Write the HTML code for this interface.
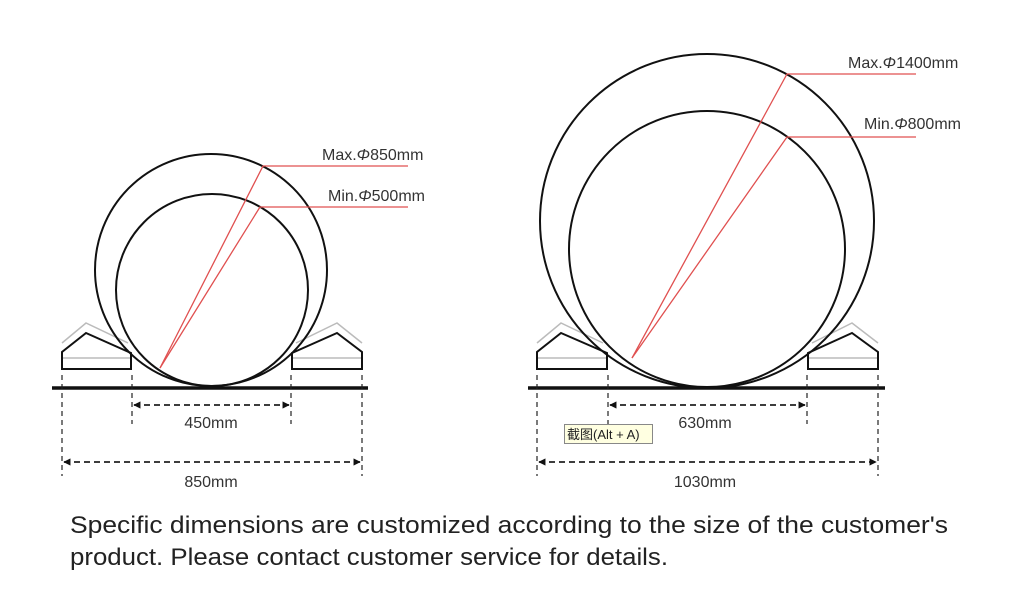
<!DOCTYPE html>
<html><head><meta charset="utf-8"><style>
html,body{margin:0;padding:0;background:#fff;}
svg{display:block;}
</style></head><body>
<svg width="1024" height="599" viewBox="0 0 1024 599" xmlns="http://www.w3.org/2000/svg" font-family="Liberation Sans, sans-serif">
<defs>
<marker id="a" viewBox="0 0 10 10" refX="9" refY="5" markerWidth="4" markerHeight="4" orient="auto-start-reverse"><path d="M0,0L10,5L0,10z" fill="#111"/></marker>
</defs>
<!-- LEFT -->
<g fill="none" stroke="#bbb" stroke-width="1.5">
<path d="M62,343 L86,323 L128,343"/><path d="M62,358 L132,358"/>
<path d="M296,343 L337,323 L362,343"/><path d="M291,358 L362,358"/>
</g>
<g fill="none" stroke="#111" stroke-width="2">
<path d="M62,369 L62,352 L86,333 L131,353 L131,369 Z"/>
<path d="M362,369 L362,352 L337,333 L292,353 L292,369 Z"/>
<circle cx="211" cy="270" r="116"/>
<circle cx="212" cy="290" r="96"/>
</g>
<line x1="52" y1="388" x2="368" y2="388" stroke="#111" stroke-width="3.5"/>
<g stroke="#e05050" stroke-width="1.3" fill="none">
<path d="M160,368 L263,166 L408,166"/><path d="M160,368 L260,207 L408,207"/>
</g>
<g stroke="#222" stroke-width="1.2" stroke-dasharray="5,4">
<line x1="62" y1="375" x2="62" y2="476"/><line x1="362" y1="375" x2="362" y2="476"/>
<line x1="132" y1="375" x2="132" y2="424"/><line x1="291" y1="375" x2="291" y2="424"/>
</g>
<g stroke="#222" stroke-width="1.8" stroke-dasharray="6,4" marker-start="url(#a)" marker-end="url(#a)">
<line x1="134" y1="405" x2="289" y2="405"/><line x1="64" y1="462" x2="360" y2="462"/>
</g>
<g fill="#333" font-size="16">
<text x="211" y="428" text-anchor="middle">450mm</text>
<text x="211" y="487" text-anchor="middle">850mm</text>
<text x="322" y="160">Max.<tspan font-style="italic">Φ</tspan>850mm</text>
<text x="328" y="201">Min.<tspan font-style="italic">Φ</tspan>500mm</text>
</g>
<!-- RIGHT -->
<g fill="none" stroke="#bbb" stroke-width="1.5">
<path d="M537,343 L561,323 L603,343"/><path d="M537,358 L608,358"/>
<path d="M812,343 L852,323 L878,343"/><path d="M807,358 L878,358"/>
</g>
<g fill="none" stroke="#111" stroke-width="2">
<path d="M537,369 L537,352 L561,333 L607,353 L607,369 Z"/>
<path d="M878,369 L878,352 L852,333 L808,353 L808,369 Z"/>
<circle cx="707" cy="221" r="167"/>
<circle cx="707" cy="249" r="138"/>
</g>
<line x1="528" y1="388" x2="885" y2="388" stroke="#111" stroke-width="3.5"/>
<g stroke="#e05050" stroke-width="1.3" fill="none">
<path d="M632,358 L787,74 L916,74"/><path d="M632,358 L787,137 L916,137"/>
</g>
<g stroke="#222" stroke-width="1.2" stroke-dasharray="5,4">
<line x1="537" y1="375" x2="537" y2="476"/><line x1="878" y1="375" x2="878" y2="476"/>
<line x1="608" y1="375" x2="608" y2="424"/><line x1="807" y1="375" x2="807" y2="424"/>
</g>
<g stroke="#222" stroke-width="1.8" stroke-dasharray="6,4" marker-start="url(#a)" marker-end="url(#a)">
<line x1="610" y1="405" x2="805" y2="405"/><line x1="539" y1="462" x2="876" y2="462"/>
</g>
<g fill="#333" font-size="16">
<text x="705" y="428" text-anchor="middle">630mm</text>
<text x="705" y="487" text-anchor="middle">1030mm</text>
<text x="848" y="68">Max.<tspan font-style="italic">Φ</tspan>1400mm</text>
<text x="864" y="129">Min.<tspan font-style="italic">Φ</tspan>800mm</text>
</g>
<rect x="564.5" y="424.5" width="88" height="19" fill="#ffffe1" stroke="#888"/>
<text x="567" y="439" font-size="13" fill="#222" font-family="Liberation Sans, Noto Sans CJK SC, sans-serif">截图(Alt + A)</text>
<!-- bottom text -->
<g fill="#222" font-size="24">
<text x="70" y="533" textLength="878" lengthAdjust="spacingAndGlyphs">Specific dimensions are customized according to the size of the customer's</text>
<text x="70" y="565" textLength="598" lengthAdjust="spacingAndGlyphs">product. Please contact customer service for details.</text>
</g>
</svg>
</body></html>
